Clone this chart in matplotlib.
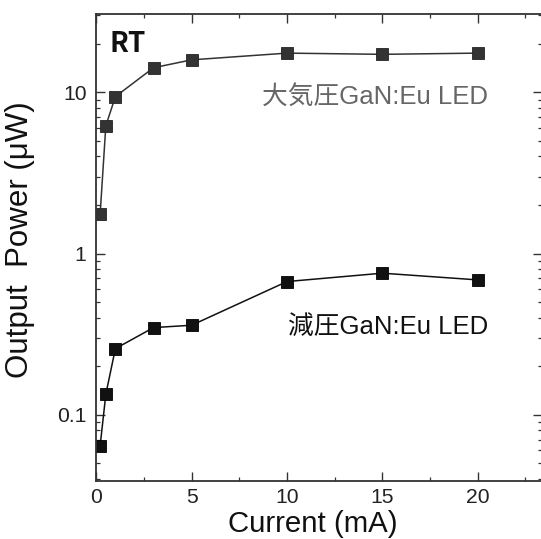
import matplotlib
matplotlib.use("Agg")
import matplotlib.pyplot as plt
from matplotlib.ticker import MultipleLocator, LogLocator, NullFormatter, FixedLocator, FixedFormatter

# Data
current = [0.2, 0.5, 1, 3, 5, 10, 15, 20]
atm_power = [1.75, 6.2, 9.4, 14.2, 15.9, 17.5, 17.2, 17.5]      # 大気圧GaN:Eu LED
low_power = [0.064, 0.134, 0.257, 0.347, 0.359, 0.67, 0.755, 0.686]  # 減圧GaN:Eu LED

x_ticks = [0, 5, 10, 15, 20]
y_ticks = [0.1, 1, 10]
y_tick_labels = ["0.1", "1", "10"]

fig = plt.figure(figsize=(5.41, 5.39), dpi=100)
ax = fig.add_axes([96.3 / 541, 1 - 481 / 539, (542 - 96.3) / 541, (481 - 14) / 539])

ax.plot(current, atm_power, color="#333333", lw=1.1, marker="s", ms=8.5,
        mfc="#333333", mec="#222222", mew=0.6)
ax.plot(current, low_power, color="#111111", lw=1.1, marker="s", ms=8.0,
        mfc="#111111", mec="#000000", mew=0.6)

ax.set_yscale("log")
ax.set_xlim(0, 23.37)
ax.set_ylim(0.0388, 30.6)

ax.xaxis.set_major_locator(FixedLocator(x_ticks))
ax.xaxis.set_minor_locator(MultipleLocator(2.5))
ax.yaxis.set_major_locator(FixedLocator(y_ticks))
ax.yaxis.set_major_formatter(FixedFormatter(y_tick_labels))
ax.yaxis.set_minor_locator(LogLocator(base=10, subs=[2, 3, 4, 5, 6, 7, 8, 9]))
ax.yaxis.set_minor_formatter(NullFormatter())

for s in ax.spines.values():
    s.set_color("#333333")
    s.set_linewidth(1.3)

ax.tick_params(which="both", direction="in", top=True, right=True, color="#333333")
ax.tick_params(which="major", length=6.3, width=1.0, pad=7, labelsize=15.2,
               labelcolor="#222222")
ax.tick_params(axis="x", which="major", pad=5)
ax.tick_params(which="minor", length=3.2, width=0.9)
for lab in ax.get_xticklabels() + ax.get_yticklabels():
    lab.set_family("Liberation Sans")

# Axis labels
fig.text(313 / 541, 1 - 524 / 539, "Current (mA)", ha="center", va="center",
         fontsize=21.2, family="Liberation Sans", color="#111111")
fig.text(20 / 541, 1 - 240 / 539, "Output  Power (μW)", ha="center", va="center",
         rotation=90, fontsize=22.5, family="Liberation Sans", color="#111111")

# Annotations
fig.text(110 / 541, 1 - 44 / 539, "RT", ha="left", va="center", fontsize=20,
         fontweight="bold", family=["Noto Sans CJK JP", "DejaVu Sans"], color="#111111")
fig.text(488 / 541, 1 - 97 / 539, "大気圧GaN:Eu LED", ha="right", va="center",
         fontsize=18.5, family=["Liberation Sans", "Noto Sans CJK JP"], color="#666666")
fig.text(488 / 541, 1 - 327 / 539, "減圧GaN:Eu LED", ha="right", va="center",
         fontsize=18.5, family=["Liberation Sans", "Noto Sans CJK JP"], color="#111111")

fig.savefig("out.png", dpi=100)
